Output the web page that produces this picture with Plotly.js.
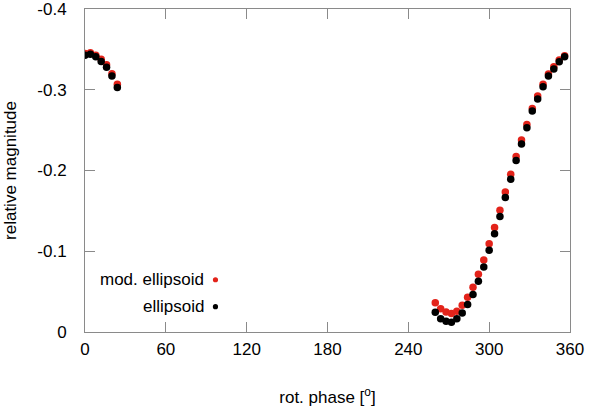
<!DOCTYPE html>
<html><head><meta charset="utf-8">
<script src="https://cdn.plot.ly/plotly-3.0.1.min.js"></script>
<style>body{margin:0;background:#fff}</style>
</head><body><div id="chart" style="width:589px;height:416px"></div>
<script>
// rotational phase (degrees)
const phase = [0, 4, 8, 12, 16, 20, 24,
  260, 264, 268, 272, 276, 280, 284, 288, 292, 296, 300, 304, 308, 312, 316,
  320, 324, 328, 332, 336, 340, 344, 348, 352, 356];
// relative magnitude, modified ellipsoid model
const modEllipsoid = [-0.345, -0.346, -0.343, -0.338, -0.331, -0.320, -0.307,
  -0.036, -0.0285, -0.0247, -0.0226, -0.0255, -0.033, -0.0428, -0.0552, -0.0715,
  -0.0891, -0.1092, -0.1294, -0.1507, -0.1732, -0.1952, -0.2175, -0.2379, -0.2571,
  -0.2769, -0.2924, -0.3068, -0.3196, -0.3286, -0.3369, -0.3422];
// relative magnitude, ellipsoid model
const ellipsoid = [-0.343, -0.344, -0.341, -0.335, -0.328, -0.317, -0.303,
  -0.0243, -0.0161, -0.0131, -0.0119, -0.0161, -0.0235, -0.0338, -0.0462, -0.0626,
  -0.0804, -0.1010, -0.1216, -0.1430, -0.1665, -0.1893, -0.2123, -0.2330, -0.2531,
  -0.2738, -0.2886, -0.3039, -0.3171, -0.3258, -0.3348, -0.3410];
const xTicks = [0, 60, 120, 180, 240, 300, 360];
const xTickText = ['0', '60', '120', '180', '240', '300', '360'];
const yTicks = [0, -0.1, -0.2, -0.3, -0.4];
const yTickText = ['0', '-0.1', '-0.2', '-0.3', '-0.4'];
const seriesNames = ['mod. ellipsoid', 'ellipsoid'];

const RED = '#e3231a', BLACK = '#000000', FRAME = '#8a8a8a';
const FONT = 'Liberation Sans, Arial, sans-serif';

const traces = [
  {x: phase, y: modEllipsoid, name: seriesNames[0], type: 'scatter', mode: 'markers',
   marker: {color: RED, size: 7.5}, showlegend: false},
  {x: phase, y: ellipsoid, name: seriesNames[1], type: 'scatter', mode: 'markers',
   marker: {color: BLACK, size: 7.5}, showlegend: false}
];

const legendY = [0.1618, 0.0783];
const legendColors = [RED, BLACK];
const annotations = seriesNames.map((n, i) => ({
  text: n, xref: 'paper', yref: 'paper', x: 0.250, y: legendY[i],
  xanchor: 'right', yanchor: 'middle', showarrow: false,
  font: {family: FONT, size: 17, color: '#000'}
}));
const shapes = seriesNames.map((n, i) => ({
  type: 'circle', xref: 'paper', yref: 'paper', xsizemode: 'pixel', ysizemode: 'pixel',
  xanchor: 0.269, yanchor: legendY[i], x0: -2.6, x1: 2.6, y0: -2.6, y1: 2.6,
  fillcolor: legendColors[i], line: {width: 0}
}));

const axisCommon = {
  showline: true, linecolor: FRAME, linewidth: 1, mirror: 'ticks',
  ticks: 'inside', ticklen: 10, tickcolor: FRAME, tickwidth: 1,
  showgrid: false, zeroline: false,
  tickfont: {family: FONT, size: 17, color: '#000'}
};

const layout = {
  width: 589, height: 416,
  margin: {l: 85, r: 19, t: 9, b: 84},
  paper_bgcolor: '#fff', plot_bgcolor: '#fff',
  font: {family: FONT, size: 17, color: '#000'},
  xaxis: Object.assign({}, axisCommon, {
    range: [0, 360], tickvals: xTicks, ticktext: xTickText, ticklabelstandoff: 2,
    title: {text: 'rot. phase [<sup>o</sup>]', font: {family: FONT, size: 17}, standoff: 32}
  }),
  yaxis: Object.assign({}, axisCommon, {
    range: [0.0002, -0.4002], tickvals: yTicks, ticktext: yTickText, ticklabelstandoff: 14,
    title: {text: 'relative magnitude', font: {family: FONT, size: 17}, standoff: 16}
  }),
  annotations: annotations,
  shapes: shapes
};

Plotly.newPlot('chart', traces, layout, {staticPlot: true, displayModeBar: false});
</script>
</body></html>
